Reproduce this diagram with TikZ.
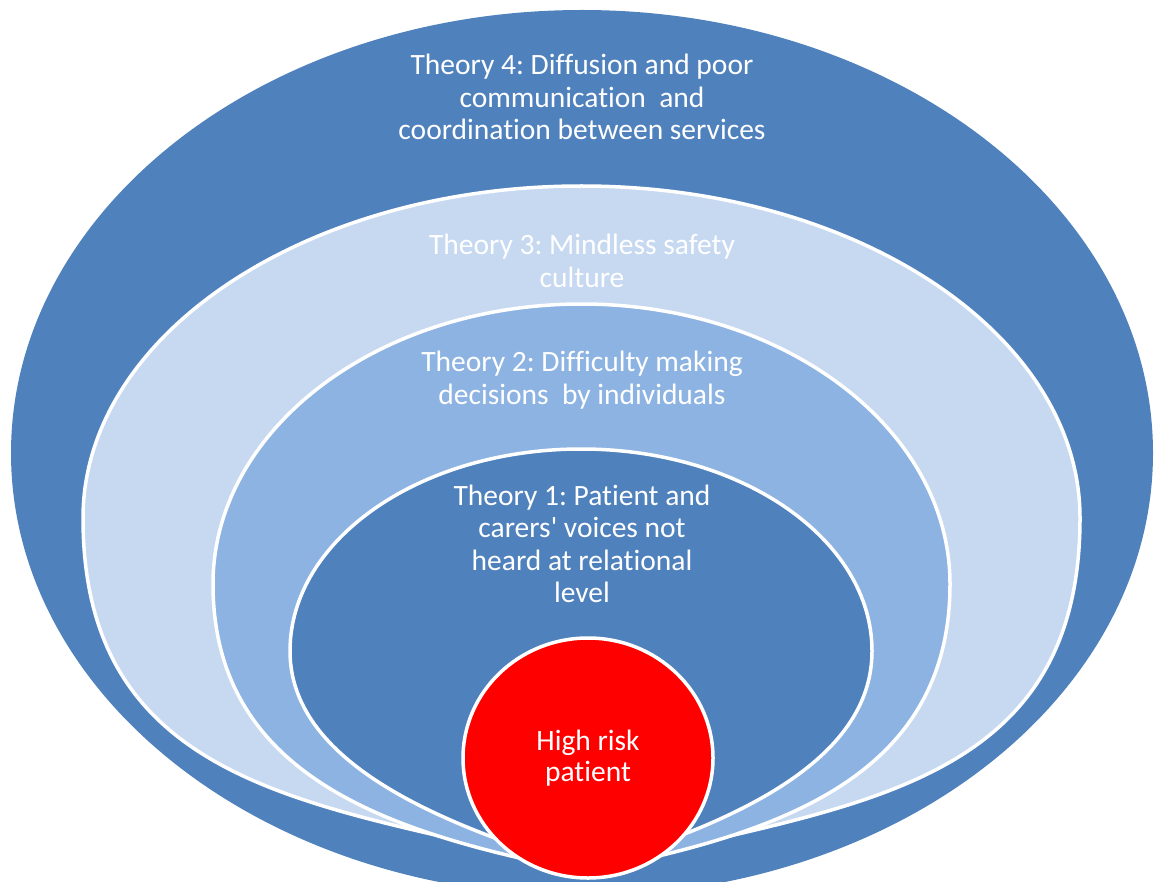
\documentclass[tikz,border=0pt]{standalone}
\usepackage{fontspec}
\setmainfont{Carlito}[Ligatures={TeXOff,NoCommon}]
\usetikzlibrary{shapes.geometric}
\definecolor{outerblue}{HTML}{4F81BD}
\definecolor{lightblue}{HTML}{C6D9F0}
\definecolor{midblue}{HTML}{8DB3E2}
\definecolor{riskred}{HTML}{FF0000}
\frenchspacing
\tikzset{
  ring/.style={draw=white, line width=3.5pt, line join=round},
  label/.style={text=white, align=center, inner sep=0pt,
    font=\fontsize{29.5}{32.5}\selectfont}
}
\begin{document}
\begin{tikzpicture}[x=1pt,y=-1pt]
\useasboundingbox (0,0) rectangle (1155,882);
\clip (0,0) rectangle (1155,882);
% Theory 4 (outer)
\fill[outerblue] (582,453) ellipse [x radius=571, y radius=443];
% Theory 3
\path[ring, fill=lightblue] (83,518) arc[start angle=180, end angle=360, x radius=498.5, y radius=332]
  .. controls (1080,798) and (835,805) .. (585,870)
  .. controls (335,805) and (83,798) .. cycle;
% Theory 2
\path[ring, fill=midblue] (213,584) arc[start angle=180, end angle=360, x radius=368.5, y radius=280]
  .. controls (950,784) and (765,836) .. (585,872)
  .. controls (405,836) and (213,784) .. cycle;
% Theory 1
\path[ring, fill=outerblue] (290,651) arc[start angle=180, end angle=360, x radius=291, y radius=202]
  .. controls (872,761) and (735,823) .. (585,868)
  .. controls (435,823) and (290,761) .. cycle;
% labels
\node[label] (t4) at (582,97) {Theory 4: Diffusion and poor\\communication\ \ and\\coordination between services};
\node[label] (t3) at (582,261) {Theory 3: Mindless safety\\culture};
\node[label] (t2) at (582,380) {Theory 2: Difficulty making\\decisions\ \ by individuals};
\node[label] (t1) at (582,544) {Theory 1: Patient and\\carers' voices not\\heard at relational\\level};
\node[ellipse, ring, fill=riskred, minimum width=250pt, minimum height=240pt,
  label, font=\fontsize{29.5}{31}\selectfont] (hr) at (588,758) {High risk\\patient};
\end{tikzpicture}
\end{document}
